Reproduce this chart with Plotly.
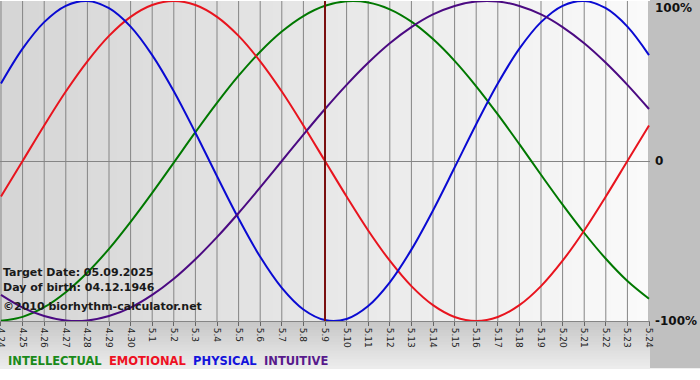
import plotly.graph_objects as go

# ---- data ----
dates = ["4.24", "4.25", "4.26", "4.27", "4.28", "4.29", "4.30",
         "5.1", "5.2", "5.3", "5.4", "5.5", "5.6", "5.7", "5.8", "5.9",
         "5.10", "5.11", "5.12", "5.13", "5.14", "5.15", "5.16", "5.17",
         "5.18", "5.19", "5.20", "5.21", "5.22", "5.23", "5.24"]

intellectual = [-0.999, -0.974, -0.914, -0.820, -0.697, -0.549, -0.380, -0.199, -0.010, 0.180,
                0.363, 0.533, 0.683, 0.809, 0.906, 0.970, 0.998, 0.991, 0.948, 0.871,
                0.762, 0.626, 0.467, 0.291, 0.105, -0.086, -0.273, -0.450, -0.611, -0.750, -0.861]

emotional = [-0.222, 0.000, 0.222, 0.434, 0.623, 0.782, 0.901, 0.975, 1.000, 0.975,
             0.901, 0.782, 0.623, 0.434, 0.222, 0.000, -0.222, -0.434, -0.623, -0.782,
             -0.901, -0.975, -1.000, -0.975, -0.901, -0.782, -0.623, -0.434, -0.222, 0.000, 0.222]

physical = [0.484, 0.702, 0.868, 0.970, 1.000, 0.955, 0.840, 0.662, 0.436, 0.177,
            -0.095, -0.360, -0.599, -0.793, -0.928, -0.994, -0.987, -0.906, -0.758, -0.554,
            -0.309, -0.041, 0.230, 0.484, 0.702, 0.868, 0.970, 1.000, 0.955, 0.840, 0.662]

intuitive = [-0.837, -0.916, -0.969, -0.997, -0.997, -0.969, -0.916, -0.837, -0.736, -0.614,
             -0.476, -0.325, -0.165, 0.000, 0.165, 0.325, 0.476, 0.614, 0.736, 0.837,
             0.916, 0.969, 0.997, 0.997, 0.969, 0.916, 0.837, 0.736, 0.614, 0.476, 0.325]

target_label = "5.9"
target_text = "Target Date: 05.09.2025"
birth_text = "Day of birth: 04.12.1946"
copy_text = "\u00a92010 biorhythm-calculator.net"

series = [
    ("INTELLECTUAL", intellectual, "#007800", "#1a8a1a"),
    ("EMOTIONAL", emotional, "#e8141e", "#ee1122"),
    ("PHYSICAL", physical, "#0a0ad2", "#1414dc"),
    ("INTUITIVE", intuitive, "#4b0a82", "#581a8c"),
]

idx = list(range(len(dates)))
fig = go.Figure()

for name, vals, col, _ in series:
    fig.add_trace(go.Scatter(x=idx, y=vals, mode="lines", name=name,
                             line=dict(color=col, width=2, shape="spline", smoothing=1.0),
                             showlegend=False, hoverinfo="skip"))

shapes = []
# plot area horizontal gradient background
n = 50
for k in range(n):
    t = k / (n - 1)
    g = int(214 + (250 - 214) * t)
    shapes.append(dict(type="rect", xref="x domain", yref="y domain",
                       x0=k / n, x1=(k + 1) / n + 0.002, y0=0, y1=1,
                       fillcolor=f"rgb({g},{g},{g})", line=dict(width=0), layer="below"))
# right margin gray
shapes.append(dict(type="rect", xref="paper", yref="paper", x0=1.0, x1=1.1, y0=-0.148, y1=1.01,
                   fillcolor="#c0c0c0", line=dict(width=0), layer="below"))
# bottom band gradient (vertical)
m = 16
y_top, y_bot = 0.0, -0.148
for k in range(m):
    t = k / (m - 1)
    g = int(200 + (236 - 200) * t)
    shapes.append(dict(type="rect", xref="paper", yref="paper", x0=0, x1=1.0,
                       y0=y_top + (y_bot - y_top) * (k + 1) / m - 0.002,
                       y1=y_top + (y_bot - y_top) * k / m,
                       fillcolor=f"rgb({g},{g},{g})", line=dict(width=0), layer="below"))
# vertical day grid lines
for i in idx:
    shapes.append(dict(type="line", xref="x", yref="y domain", x0=i, x1=i, y0=0, y1=1,
                       line=dict(color="#858585", width=1), layer="below"))
# target date line
ti = dates.index(target_label)
shapes.append(dict(type="line", xref="x", yref="y domain", x0=ti, x1=ti, y0=0, y1=1,
                   line=dict(color="#7a1010", width=2), layer="above"))

annotations = []
for yv, txt in [(1, "100%"), (0, "0"), (-1, "-100%")]:
    annotations.append(dict(x=1.0, xref="paper", y=yv, yref="y", text=f"<b>{txt}</b>",
                            xanchor="left", yanchor="top" if yv == 1 else "middle",
                            xshift=3, yshift=2 if yv == 1 else 0,
                            showarrow=False, font=dict(family="DejaVu Sans", size=12, color="#111")))
for yy, txt in [(272, target_text), (287, birth_text), (306, copy_text)]:
    annotations.append(dict(x=0, xref="paper", y=(321 - yy) / 320, yref="paper",
                            text=f"<b>{txt}</b>", xanchor="left", yanchor="middle", xshift=1,
                            showarrow=False, font=dict(family="DejaVu Sans", size=11, color="#1a1a1a")))
legend_html = "&nbsp;&nbsp;".join(f"<span style='color:{lc}'><b>{nm}</b></span>" for nm, _, _, lc in series)
annotations.append(dict(x=0, xref="paper", y=(321 - 361) / 320, yref="paper", text=legend_html,
                        xanchor="left", yanchor="middle", xshift=6, showarrow=False,
                        font=dict(family="DejaVu Sans", size=11.5)))

fig.update_layout(
    width=700, height=380,
    margin=dict(l=0, r=50, t=1, b=59, autoexpand=False),
    paper_bgcolor="white", plot_bgcolor="rgba(0,0,0,0)",
    shapes=shapes, annotations=annotations,
    xaxis=dict(range=[-0.046, 30.046], tickmode="array", tickvals=idx, ticktext=dates,
               tickangle=90, ticks="outside", ticklen=4, tickcolor="#666",
               ticklabeloverflow="allow", automargin=False,
               tickfont=dict(family="DejaVu Sans", size=9, color="#222"),
               showgrid=False, zeroline=False, showline=True, linecolor="#858585", linewidth=1),
    yaxis=dict(range=[-1, 1], showticklabels=False, showgrid=False, zeroline=True,
               zerolinecolor="#858585", zerolinewidth=1, ticks="", automargin=False),
)

fig.write_html("out.html")
